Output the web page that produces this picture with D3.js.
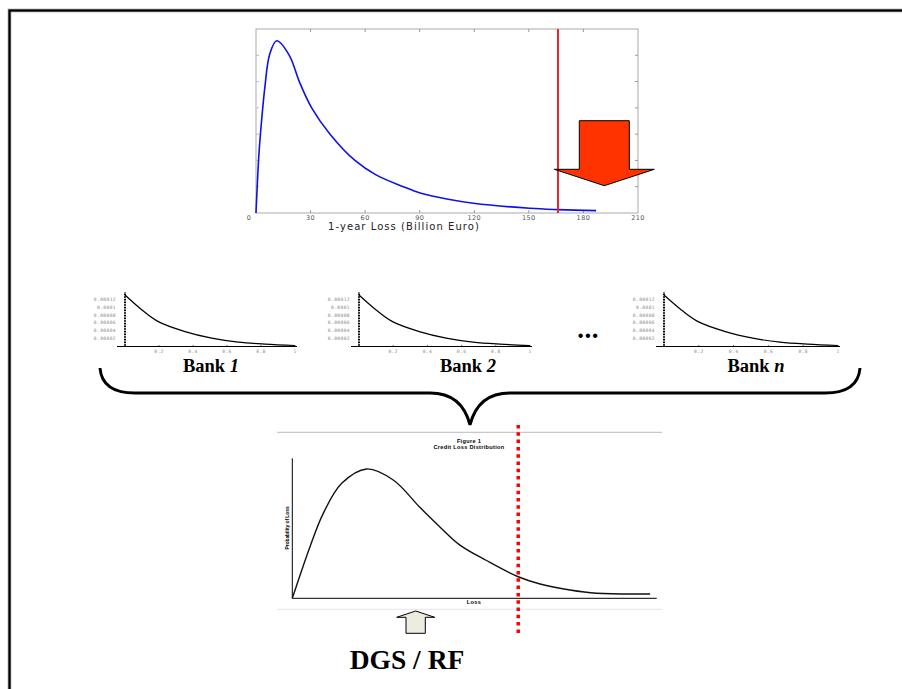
<!DOCTYPE html>
<html><head><meta charset="utf-8">
<script src="https://cdn.jsdelivr.net/npm/d3@7/dist/d3.min.js"></script>
<style>body{margin:0;background:#fff}svg{display:block}</style>
</head><body>
<script>
// ---- Data ----
// Top chart: 1-year loss distribution (Billion Euro)
const topLoss    = [0, 1.65, 3.1, 4.9, 7.5, 11.4, 18.3, 23.8, 30.6, 40.7, 54.4, 66, 81, 90.2, 104.9, 119.5, 150.5, 166, 187];
const topDensity = [0, 2.28, 3.54, 4.8, 6.03, 6.55, 6.0, 5.0, 4.0, 3.0, 2.0, 1.45, 1.0, 0.76, 0.53, 0.37, 0.18, 0.13, 0.09];
const topXTicks  = [0, 30, 60, 90, 120, 150, 180, 210];
const topYTicks  = [0, 1, 2, 3, 4, 5, 6, 7];
const topVaR     = 166;
const topXLabel  = "1-year Loss (Billion Euro)";

// Bank charts
const bankNames   = ["1", "2", "n"];
const bankLoss    = [0, 0.1, 0.196, 0.353, 0.51, 0.667, 0.824, 1.0];
const bankDensity = [0.000131, 0.000093, 0.0000633, 0.000038, 0.0000213, 0.0000111, 0.000006, 0.0000025];
const bankYTicks  = [0.00002, 0.00004, 0.00006, 0.00008, 0.0001, 0.00012];
const bankYLabels = ["0.00002", "0.00004", "0.00006", "0.00008", "0.0001", "0.00012"];
const bankXTicks  = [0.2, 0.4, 0.6, 0.8, 1];

// Bottom chart: credit loss distribution
const botLoss = [0, 4.86, 8.5, 13.56, 20.4, 27.7, 35.0, 40.5, 46.0, 53.3, 62.0, 68.0, 76.2, 83.5, 98.2];
const botProb = [0, 0.369, 0.607, 0.821, 0.924, 0.845, 0.65, 0.51, 0.38, 0.27, 0.154, 0.102, 0.059, 0.036, 0.031];
const botVaR  = 62;
const botTitle = ["Figure 1", "Credit Loss Distribution"];

const W = 902, H = 689;
const svg = d3.select("body").append("svg").attr("width", W).attr("height", H);

// Frame
svg.append("path").attr("d", `M9.5,${H+5} V10.5 H${W+5}`).attr("fill", "none")
  .attr("stroke", "#888").attr("stroke-width", 3.5);
svg.append("path").attr("d", `M9.5,${H+5} V10.5 H${W+5}`).attr("fill", "none")
  .attr("stroke", "#000").attr("stroke-width", 2);

// ---- Top chart ----
{
  const x = d3.scaleLinear().domain([0, 210]).range([256, 638]);
  const y = d3.scaleLinear().domain([0, 7]).range([213, 29]);
  const g = svg.append("g");
  g.append("rect").attr("x", x(0)).attr("y", y(7)).attr("width", x(210) - x(0)).attr("height", y(0) - y(7))
    .attr("fill", "#fff").attr("stroke", "#aaa").attr("stroke-width", 1);
  g.selectAll(".tt").data(topXTicks.slice(1, -1)).join("line")
    .attr("x1", d => x(d)).attr("x2", d => x(d)).attr("y1", y(7)).attr("y2", y(7) + 3)
    .attr("stroke", "#999");
  g.selectAll(".tb").data(topXTicks.slice(1, -1)).join("line")
    .attr("x1", d => x(d)).attr("x2", d => x(d)).attr("y1", y(0)).attr("y2", y(0) - 3)
    .attr("stroke", "#999");
  g.selectAll(".tr").data(topYTicks.slice(1, -1)).join("line")
    .attr("x1", x(210)).attr("x2", x(210) - 3).attr("y1", d => y(d)).attr("y2", d => y(d))
    .attr("stroke", "#999");
  g.selectAll(".tl").data(topYTicks.slice(1, -1)).join("line")
    .attr("x1", x(0)).attr("x2", x(0) + 3).attr("y1", d => y(d)).attr("y2", d => y(d))
    .attr("stroke", "#bbb");
  g.selectAll(".lab").data(topXTicks).join("text")
    .attr("x", d => x(d) - (d === 0 ? 7 : 0)).attr("y", 220)
    .attr("text-anchor", "middle").attr("font-family", "DejaVu Sans").attr("font-size", 6.5)
    .attr("letter-spacing", 0.4).attr("fill", "#555").text(d => d);
  g.append("text").attr("x", 404).attr("y", 230).attr("text-anchor", "middle")
    .attr("font-family", "DejaVu Sans").attr("font-size", 10).attr("letter-spacing", 1.05)
    .attr("fill", "#222").text(topXLabel);
  const line = d3.line().x(d => x(d[0])).y(d => y(d[1])).curve(d3.curveCatmullRom.alpha(0.5));
  g.append("path").datum(topLoss.map((d, i) => [d, topDensity[i]]))
    .attr("d", line).attr("fill", "none").attr("stroke", "#1010e8").attr("stroke-width", 1.6);
  g.append("line").attr("x1", x(topVaR)).attr("x2", x(topVaR)).attr("y1", y(7)).attr("y2", y(0))
    .attr("stroke", "#e3262b").attr("stroke-width", 2);
  g.append("path")
    .attr("d", "M579.3,120.7 H629.3 V169.3 H654.3 L604.3,185.7 L554.3,169.3 H579.3 Z")
    .attr("fill", "#ff3300").attr("stroke", "#000").attr("stroke-width", 1);
}

// ---- Bank charts ----
const bankPos = [[125, 295], [359, 530], [664, 838]];
const bankLabelX = [211, 468, 756];
bankNames.forEach((nm, bi) => {
  const x = d3.scaleLinear().domain([0, 1]).range(bankPos[bi]);
  const y = d3.scaleLinear().domain([0, 0.00012]).range([346.5, 299.3]);
  const g = svg.append("g");
  g.append("line").attr("x1", x(0) - 8).attr("x2", x(1) + 2).attr("y1", y(0)).attr("y2", y(0))
    .attr("stroke", "#000").attr("stroke-width", 1.2);
  g.append("line").attr("x1", x(0)).attr("x2", x(0)).attr("y1", 292.5).attr("y2", y(0))
    .attr("stroke", "#000").attr("stroke-width", 2).attr("stroke-dasharray", "1,0.6");
  g.selectAll(".yl").data(bankYTicks).join("text")
    .attr("x", x(0) - 9).attr("y", d => y(d) + 1.5).attr("text-anchor", "end")
    .attr("font-family", "DejaVu Sans Mono").attr("font-size", 4.6).attr("letter-spacing", 0.4)
    .attr("fill", "#888").text((d, i) => bankYLabels[i]);
  g.selectAll(".xl").data(bankXTicks).join("text")
    .attr("x", d => x(d)).attr("y", y(0) + 6).attr("text-anchor", "middle")
    .attr("font-family", "DejaVu Sans Mono").attr("font-size", 4.6).attr("letter-spacing", 0.4)
    .attr("fill", "#888").text(d => d);
  g.selectAll(".xt").data(bankXTicks).join("line")
    .attr("x1", d => x(d)).attr("x2", d => x(d)).attr("y1", y(0)).attr("y2", y(0) - 1.5)
    .attr("stroke", "#000").attr("stroke-width", 0.6);
  const line = d3.line().x(d => x(d[0])).y(d => y(d[1])).curve(d3.curveCatmullRom.alpha(0.5));
  g.append("path").datum(bankLoss.map((d, i) => [d, bankDensity[i]]))
    .attr("d", line).attr("fill", "none").attr("stroke", "#000").attr("stroke-width", 1.2);
  const t = g.append("text").attr("x", bankLabelX[bi]).attr("y", 372).attr("text-anchor", "middle")
    .attr("font-family", "Liberation Serif").attr("font-weight", "bold").attr("font-size", 18.5);
  t.append("tspan").text("Bank ");
  t.append("tspan").attr("font-style", "italic").text(nm);
});
svg.append("text").attr("x", 588).attr("y", 338).attr("text-anchor", "middle")
  .attr("font-family", "Liberation Serif").attr("font-weight", "bold").attr("font-size", 27)
  .attr("letter-spacing", 0.5).text("...");

// Brace
svg.append("path")
  .attr("d", "M100,368 Q102,393 135,393 L430,393 Q462,393 470,425 Q478,393 510,393 L825,393 Q858,393 860,368")
  .attr("fill", "none").attr("stroke", "#000").attr("stroke-width", 3);

// ---- Bottom chart ----
{
  const x = d3.scaleLinear().domain([0, 100]).range([292.3, 656.7]);
  const y = d3.scaleLinear().domain([0, 1]).range([598.3, 458.3]);
  const g = svg.append("g");
  g.append("line").attr("x1", 277).attr("x2", 662).attr("y1", 432.3).attr("y2", 432.3).attr("stroke", "#bbb");
  g.append("line").attr("x1", 277).attr("x2", 662).attr("y1", 609.3).attr("y2", 609.3).attr("stroke", "#e4e4e4");
  g.selectAll(".ti").data(botTitle).join("text")
    .attr("x", 469).attr("y", (d, i) => 443 + i * 5.8).attr("text-anchor", "middle")
    .attr("font-family", "Liberation Sans").attr("font-weight", "bold").attr("font-size", 5.6)
    .attr("letter-spacing", 0.3).text(d => d);
  g.append("line").attr("x1", x(0)).attr("x2", x(0)).attr("y1", y(1)).attr("y2", y(0)).attr("stroke", "#000");
  g.append("line").attr("x1", x(0)).attr("x2", x(100)).attr("y1", y(0)).attr("y2", y(0)).attr("stroke", "#000");
  g.append("text").attr("x", 474).attr("y", 604).attr("text-anchor", "middle")
    .attr("font-family", "Liberation Sans").attr("font-weight", "bold").attr("font-size", 5.6)
    .attr("letter-spacing", 0.3).text("Loss");
  g.append("text").attr("transform", "translate(288.5,528) rotate(-90)").attr("text-anchor", "middle")
    .attr("font-family", "Liberation Sans").attr("font-weight", "bold").attr("font-size", 5)
    .attr("letter-spacing", -0.1).text("Probability of Loss");
  const line = d3.line().x(d => x(d[0])).y(d => y(d[1])).curve(d3.curveCatmullRom.alpha(0.5));
  g.append("path").datum(botLoss.map((d, i) => [d, botProb[i]]))
    .attr("d", line).attr("fill", "none").attr("stroke", "#111").attr("stroke-width", 1.4);
  g.append("line").attr("x1", x(botVaR)).attr("x2", x(botVaR)).attr("y1", 425).attr("y2", 633)
    .attr("stroke", "#f00").attr("stroke-width", 3.5).attr("stroke-dasharray", "3.5,3.8");
  g.append("path").attr("d", "M406,633.3 V617.3 H396.7 L415.7,611 L434.7,617.3 H425.3 V633.3 Z")
    .attr("fill", "#eeebe0").attr("stroke", "#000").attr("stroke-width", 1);
  g.append("text").attr("x", 407).attr("y", 669).attr("text-anchor", "middle")
    .attr("font-family", "Liberation Serif").attr("font-weight", "bold").attr("font-size", 27.5)
    .text("DGS / RF");
}
</script>
</body></html>
